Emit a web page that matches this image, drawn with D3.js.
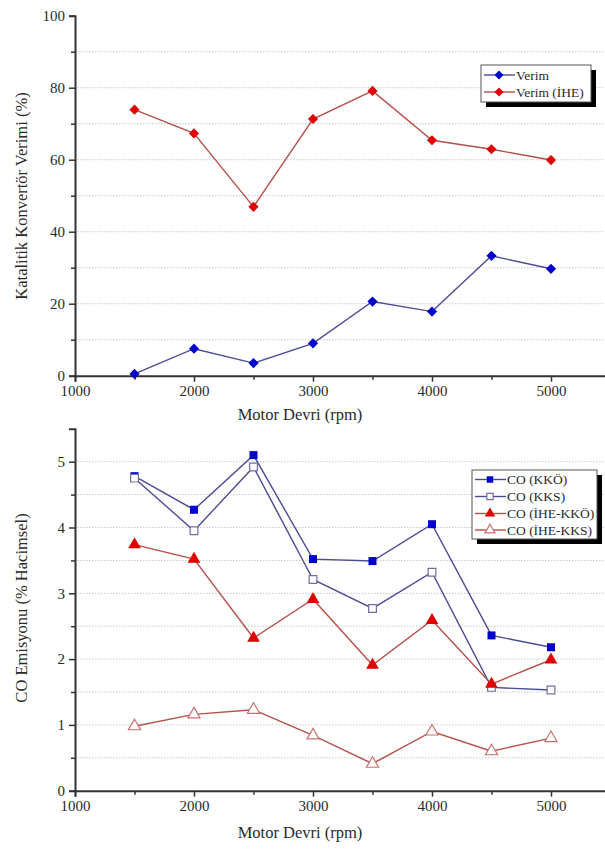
<!DOCTYPE html>
<html><head><meta charset="utf-8">
<script src="https://cdn.jsdelivr.net/npm/d3@7"></script>
<style>body{margin:0;background:#fff}svg{display:block}</style>
</head><body>
<script>
const rpm = [1500, 2000, 2500, 3000, 3500, 4000, 4500, 5000];
const xTicks = [1000, 2000, 3000, 4000, 5000];
const verim = [0.5, 7.5, 3.5, 9.0, 20.6, 17.8, 33.3, 29.7];
const verimIHE = [73.9, 67.3, 46.9, 71.3, 79.1, 65.4, 62.9, 59.9];
const coKKO = [4.78, 4.27, 5.10, 3.52, 3.49, 4.05, 2.36, 2.18];
const coKKS = [4.75, 3.95, 4.92, 3.21, 2.77, 3.32, 1.57, 1.53];
const coIHEKKO = [3.74, 3.52, 2.32, 2.91, 1.91, 2.59, 1.62, 1.99];
const coIHEKKS = [0.98, 1.16, 1.23, 0.84, 0.41, 0.90, 0.60, 0.80];
const topTicks = [0, 20, 40, 60, 80, 100];
const botTicks = [0, 1, 2, 3, 4, 5];

const W = 605, H = 850;
const FONT = "Liberation Serif";
const svg = d3.select("body").append("svg").attr("width", W).attr("height", H)
  .attr("font-family", FONT);

const blueLine = "#4b4b96", blueMark = "#0000cc", redLine = "#b8504a", redMark = "#e00000";
const txtCol = "#2a2a2a";

function panel(cfg) {
  const x = d3.scaleLinear().domain([1000, 5500]).range([75, 610.5]);
  const y = d3.scaleLinear().domain(cfg.domain).range(cfg.range);
  const g = svg.append("g");
  g.selectAll(".grid").data(cfg.grid).join("line")
    .attr("x1", 77).attr("x2", W).attr("y1", d => y(d)).attr("y2", d => y(d))
    .attr("stroke", "#c8c8c8").attr("stroke-width", 1).attr("stroke-dasharray", "1.5,1.5");
  g.append("g").attr("transform", `translate(0,${y(0)})`)
    .call(d3.axisBottom(x).tickValues(xTicks).tickSize(6).tickPadding(4).tickFormat(d3.format("d")));
  g.append("g").attr("transform", `translate(0,${y(0)})`)
    .call(d3.axisBottom(x).tickValues([1500, 2500, 3500, 4500]).tickSize(4).tickFormat(""))
    .select(".domain").remove();
  g.append("g").attr("transform", `translate(75,0)`)
    .call(d3.axisLeft(y).tickValues(cfg.ticks).tickSize(6).tickPadding(4).tickFormat(d3.format("d")));
  g.append("g").attr("transform", `translate(75,0)`)
    .call(d3.axisLeft(y).tickValues(cfg.minor).tickSize(4).tickFormat(""))
    .select(".domain").remove();
  g.selectAll("g").attr("font-family", FONT);
  g.selectAll(".domain").attr("stroke", "#333").attr("stroke-width", 2);
  g.selectAll(".tick line").attr("stroke", "#333").attr("stroke-width", 1.5);
  g.selectAll(".tick text").attr("font-family", FONT).attr("font-size", 15).attr("fill", txtCol);
  g.append("text").attr("x", 300).attr("y", cfg.xTitleY).attr("text-anchor", "middle")
    .attr("font-family", FONT).attr("font-size", 16.5).attr("fill", txtCol).text("Motor Devri (rpm)");
  g.append("text").attr("transform", `translate(27,${cfg.yTitleMid}) rotate(-90)`).attr("text-anchor", "middle")
    .attr("font-family", FONT).attr("font-size", 16.5).attr("fill", txtCol).text(cfg.yTitle);
  return {x, y, g};
}

function drawSeries(p, vals, lineColor, shape, fill, stroke, size) {
  const line = d3.line().x((d, i) => p.x(rpm[i])).y(d => p.y(d));
  p.g.append("path").datum(vals).attr("d", line).attr("fill", "none")
    .attr("stroke", lineColor).attr("stroke-width", 1.4);
  p.g.selectAll(null).data(vals).join("path")
    .attr("d", d3.symbol().type(shape).size(size))
    .attr("transform", (d, i) => `translate(${p.x(rpm[i])},${p.y(d)})`)
    .attr("fill", fill).attr("stroke", stroke).attr("stroke-width", 1.2);
}

function drawDiamonds(p, vals, lineColor, markColor) {
  const line = d3.line().x((d, i) => p.x(rpm[i])).y(d => p.y(d));
  p.g.append("path").datum(vals).attr("d", line).attr("fill", "none")
    .attr("stroke", lineColor).attr("stroke-width", 1.4);
  p.g.selectAll(null).data(vals).join("path")
    .attr("d", d3.symbol().type(d3.symbolSquare).size(52))
    .attr("transform", (d, i) => `translate(${p.x(rpm[i])},${p.y(d)}) rotate(45)`)
    .attr("fill", markColor);
}

const p1 = panel({domain: [0, 100], range: [375.7, 15.7], ticks: topTicks,
  minor: [10, 30, 50, 70, 90], grid: [10, 20, 30, 40, 50, 60, 70, 80, 90],
  xTitleY: 420, yTitleMid: 196, yTitle: "Katalitik Konvertör Verimi (%)"});
drawDiamonds(p1, verim, blueLine, blueMark);
drawDiamonds(p1, verimIHE, redLine, redMark);

const p2 = panel({domain: [0, 5.5], range: [790.7, 428.8], ticks: botTicks,
  minor: [0.5, 1.5, 2.5, 3.5, 4.5], grid: [0.5, 1, 1.5, 2, 2.5, 3, 3.5, 4, 4.5, 5],
  xTitleY: 838, yTitleMid: 608, yTitle: "CO Emisyonu (% Hacimsel)"});
drawSeries(p2, coKKO, blueLine, d3.symbolSquare, blueMark, "none", 64);
drawSeries(p2, coKKS, blueLine, d3.symbolSquare, "#fff", "#7070a0", 60);
drawSeries(p2, coIHEKKO, redLine, d3.symbolTriangle, redMark, "none", 70);
drawSeries(p2, coIHEKKS, redLine, d3.symbolTriangle, "#fff", "#c87070", 64);

function legend(x0, y0, w, h, items) {
  const g = svg.append("g");
  g.append("rect").attr("x", x0 + 5).attr("y", y0 + 5).attr("width", w).attr("height", h).attr("fill", "#000");
  g.append("rect").attr("x", x0).attr("y", y0).attr("width", w).attr("height", h)
    .attr("fill", "#fff").attr("stroke", "#555").attr("stroke-width", 1);
  items.forEach(it => {
    const yy = y0 + it.dy;
    g.append("line").attr("x1", x0 + 3).attr("x2", x0 + 34).attr("y1", yy).attr("y2", yy)
      .attr("stroke", it.line).attr("stroke-width", 1.4);
    g.append("path").attr("d", d3.symbol().type(it.shape).size(it.size)())
      .attr("transform", `translate(${x0 + 18},${yy})${it.rot ? " rotate(45)" : ""}`)
      .attr("fill", it.fill).attr("stroke", it.stroke || "none").attr("stroke-width", 1.2);
    g.append("text").attr("x", x0 + 35).attr("y", yy + 4.8).attr("font-family", FONT)
      .attr("font-size", 13.5).attr("fill", txtCol).text(it.label);
  });
}
legend(481, 65, 110, 37, [
  {label: "Verim", line: blueLine, shape: d3.symbolSquare, size: 40, fill: blueMark, rot: true, dy: 10},
  {label: "Verim (İHE)", line: redLine, shape: d3.symbolSquare, size: 40, fill: redMark, rot: true, dy: 27}
]);
legend(472, 470, 125, 69, [
  {label: "CO (KKÖ)", line: blueLine, shape: d3.symbolSquare, size: 42, fill: blueMark, dy: 9.5},
  {label: "CO (KKS)", line: blueLine, shape: d3.symbolSquare, size: 40, fill: "#fff", stroke: "#7070a0", dy: 26.5},
  {label: "CO (İHE-KKÖ)", line: redLine, shape: d3.symbolTriangle, size: 48, fill: redMark, dy: 43.5},
  {label: "CO (İHE-KKS)", line: redLine, shape: d3.symbolTriangle, size: 44, fill: "#fff", stroke: "#c87070", dy: 60}
]);
</script>
</body></html>
